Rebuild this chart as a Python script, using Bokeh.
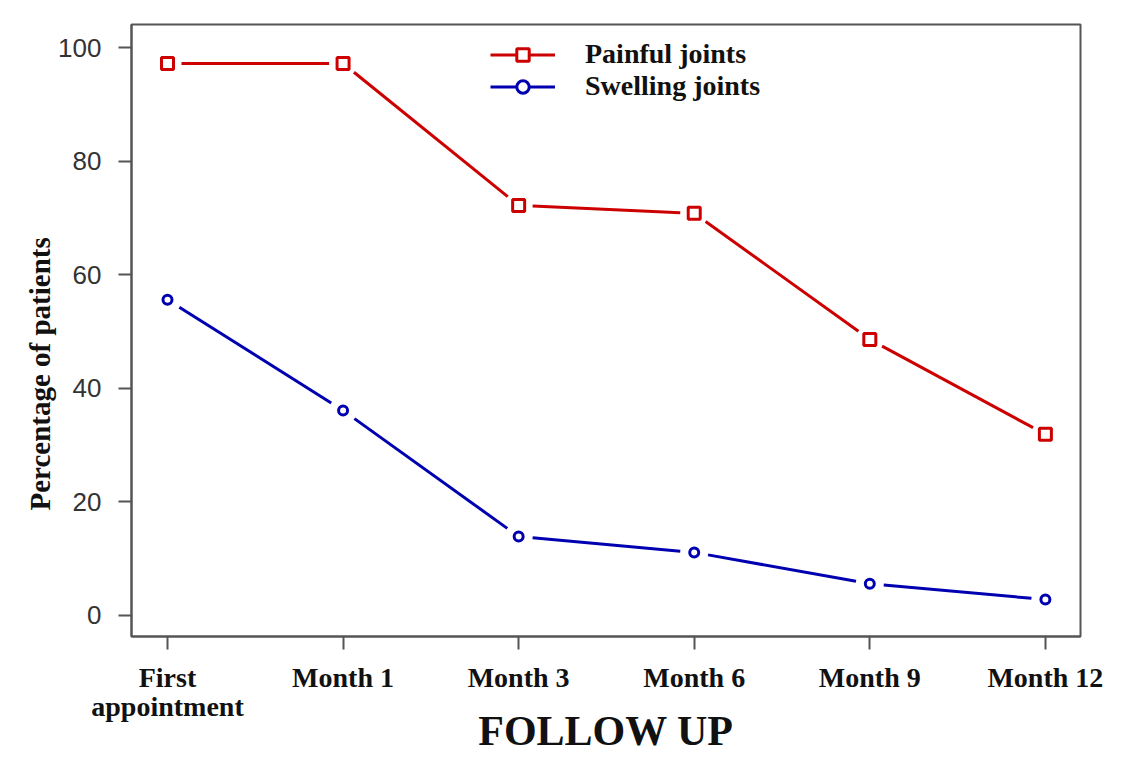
import math
from bokeh.plotting import figure
from bokeh.models import Range1d, FixedTicker, Legend, LegendItem, Title
from bokeh.embed import file_html
from bokeh.resources import INLINE

categories = ["First\nappointment", "Month 1", "Month 3", "Month 6", "Month 9", "Month 12"]
painful = [97.2, 97.2, 72.2, 70.8, 48.6, 31.9]
swelling = [55.6, 36.1, 13.9, 11.1, 5.6, 2.8]
y_ticks = [0, 20, 40, 60, 80, 100]
x_title = "FOLLOW UP"
y_title = "Percentage of patients"

RED = "#cd0000"
BLUE = "#0000b0"
FRAME = "#555555"

W, H = 1119, 758
BL, BR, BT, BB = 131, 39, 24, 122
X0, X1 = -0.205, 5.2
Y0, Y1 = -3.7, 104.05

xs = list(range(len(categories)))

p = figure(width=W, height=H, output_backend="svg", toolbar_location=None,
           x_range=Range1d(X0, X1), y_range=Range1d(Y0, Y1),
           min_border_left=BL, min_border_right=BR, min_border_top=BT, min_border_bottom=BB)
p.grid.visible = False
p.background_fill_color = "white"
p.border_fill_color = "white"
p.outline_line_color = FRAME
p.outline_line_width = 2

# pixel scale of the frame, used to leave R-style gaps (type="b") around points
px_x = (W - BL - BR) / (X1 - X0)
px_y = (H - BT - BB) / (Y1 - Y0)


def gapped(xv, yv, gap):
    a0, b0, a1, b1 = [], [], [], []
    for i in range(len(xv) - 1):
        dx = (xv[i + 1] - xv[i]) * px_x
        dy = (yv[i + 1] - yv[i]) * px_y
        L = math.hypot(dx, dy)
        ux, uy = dx / L, dy / L
        a0.append(xv[i] + ux * gap / px_x)
        b0.append(yv[i] + uy * gap / px_y)
        a1.append(xv[i + 1] - ux * gap / px_x)
        b1.append(yv[i + 1] - uy * gap / px_y)
    return a0, b0, a1, b1


p.segment(*gapped(xs, painful, 14), line_color=RED, line_width=3)
p.segment(*gapped(xs, swelling, 14), line_color=BLUE, line_width=3)

# line renderers used only for the legend glyphs
l1 = p.line([0], [float("nan")], line_color=RED, line_width=3)
l2 = p.line([0], [float("nan")], line_color=BLUE, line_width=3)

m1 = p.scatter(xs, painful, marker="square", size=12, fill_color="white", line_color=RED, line_width=3)
m2 = p.scatter(xs, swelling, marker="circle", size=9, fill_color="white", line_color=BLUE, line_width=3)

# axes
xa = p.xaxis[0]
xa.ticker = FixedTicker(ticks=xs)
xa.major_label_overrides = {i: c for i, c in enumerate(categories)}
xa.axis_line_color = FRAME
xa.axis_line_width = 2
xa.major_tick_line_color = FRAME
xa.major_tick_line_width = 2
xa.major_tick_out = 13
xa.major_tick_in = 0
xa.minor_tick_line_color = None
xa.major_label_text_font = "Liberation Serif"
xa.major_label_text_font_style = "bold"
xa.major_label_text_font_size = "28px"
xa.major_label_text_line_height = 0.95
xa.major_label_text_color = "#111111"
xa.major_label_standoff = 12
xa.axis_label = x_title
xa.axis_label_text_font = "Liberation Serif"
xa.axis_label_text_font_style = "bold"
xa.axis_label_text_font_size = "42px"
xa.axis_label_text_color = "#111111"
xa.axis_label_standoff = -17

ya = p.yaxis[0]
ya.ticker = FixedTicker(ticks=y_ticks)
ya.axis_line_color = FRAME
ya.axis_line_width = 2
ya.major_tick_line_color = FRAME
ya.major_tick_line_width = 2
ya.major_tick_out = 13
ya.major_tick_in = 0
ya.minor_tick_line_color = None
ya.major_label_text_font = "Liberation Sans"
ya.major_label_text_font_size = "26px"
ya.major_label_text_color = "#333333"
ya.major_label_standoff = 17
ya.major_label_orientation = "horizontal"

# y title: placed below the centre as in the reference
p.add_layout(Title(text=y_title, align="left", offset=126, standoff=0,
                   text_font="Liberation Serif", text_font_style="bold",
                   text_font_size="29px", text_color="#111111"), "left")

legend = Legend(items=[LegendItem(label="Painful joints", renderers=[l1, m1]),
                       LegendItem(label="Swelling joints", renderers=[l2, m2])],
                location=(359, 534), orientation="vertical")
legend.background_fill_alpha = 0
legend.border_line_color = None
legend.padding = 0
legend.margin = 0
legend.spacing = 0
legend.glyph_width = 65
legend.glyph_height = 31
legend.label_height = 31
legend.label_standoff = 30
legend.label_text_font = "Liberation Serif"
legend.label_text_font_style = "bold"
legend.label_text_font_size = "28px"
legend.label_text_color = "#111111"
p.add_layout(legend, "center")

open("out.html", "w").write(file_html(p, INLINE))
